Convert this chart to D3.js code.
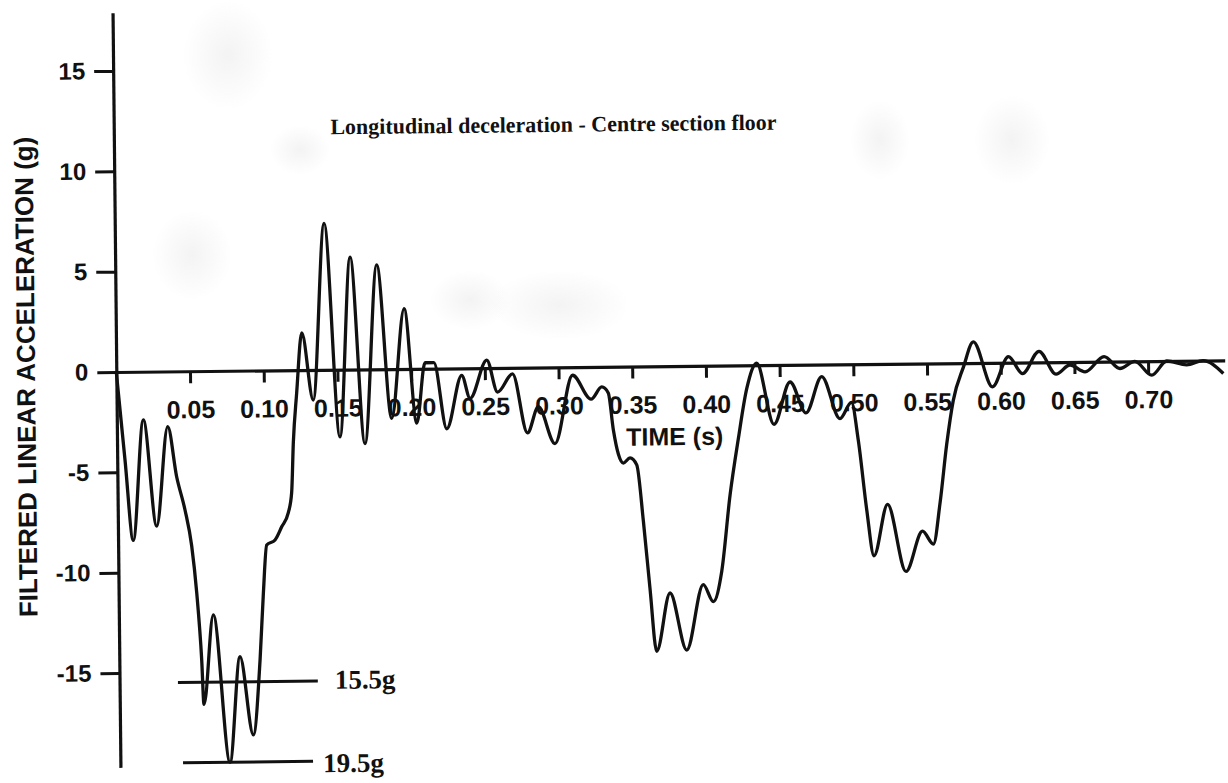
<!DOCTYPE html>
<html>
<head>
<meta charset="utf-8">
<script src="https://cdn.jsdelivr.net/npm/d3@7"></script>
<style>
  html, body { margin: 0; padding: 0; background: #fff; }
  svg { display: block; }
</style>
</head>
<body>
<svg id="chart" width="1228" height="783"></svg>
<script>
// Sample times (s)
const time = [
  0.0000, 0.0053, 0.0103, 0.0180, 0.0263, 0.0345, 0.0402, 0.0456, 0.0499, 0.0530,
  0.0559, 0.0571, 0.0641, 0.0744, 0.0819, 0.0904, 0.0955, 0.0982, 0.1008, 0.1065,
  0.1111, 0.1157, 0.1181, 0.1196, 0.1222, 0.1261, 0.1334, 0.1420, 0.1513, 0.1594,
  0.1682, 0.1774, 0.1865, 0.1957, 0.2035, 0.2095, 0.2155, 0.2238, 0.2343, 0.2398,
  0.2514, 0.2585, 0.2688, 0.2785, 0.2861, 0.2971, 0.3095, 0.3219, 0.3292, 0.3336,
  0.3368, 0.3400, 0.3433, 0.3479, 0.3524, 0.3565, 0.3605, 0.3646, 0.3741, 0.3850,
  0.3967, 0.4034, 0.4093, 0.4155, 0.4215, 0.4276, 0.4345, 0.4458, 0.4570, 0.4676,
  0.4785, 0.4906, 0.4985, 0.5029, 0.5081, 0.5127, 0.5223, 0.5343, 0.5458, 0.5531,
  0.5579, 0.5628, 0.5676, 0.5747, 0.5816, 0.5943, 0.6053, 0.6148, 0.6261, 0.6375,
  0.6470, 0.6572, 0.6702, 0.6809, 0.6911, 0.7024, 0.7127, 0.7262, 0.7373, 0.7510
];

// Filtered longitudinal acceleration at each sample (g)
const accel = [
   0.00,  -4.40,  -8.40,  -2.40,  -7.70,  -2.75,  -5.25,  -6.90,  -8.70, -11.05,
 -14.40, -16.60, -12.15, -19.50, -14.25, -18.15, -14.40, -11.10,  -8.70,  -8.45,
  -7.80,  -7.10,  -6.10,  -3.60,  -1.15,   1.85,  -1.50,   7.30,  -3.35,   5.60,
  -3.70,   5.20,  -2.45,   3.00,  -2.70,   0.30,   0.30,  -3.00,  -0.35,  -1.50,
   0.40,  -1.20,  -0.30,  -3.25,  -1.95,  -3.80,  -0.40,  -1.60,  -1.00,  -1.30,
  -3.15,  -4.35,  -4.80,  -4.55,  -4.90,  -7.70, -11.05, -14.20, -11.30, -14.15,
 -10.90, -11.75, -10.25,  -6.45,  -3.65,  -1.15,   0.10,  -2.95,  -0.85,  -2.40,
  -0.60,  -2.70,  -1.90,  -3.80,  -7.25,  -9.55,  -7.00, -10.35,  -8.35,  -9.00,
  -6.95,  -4.05,  -1.85,  -0.20,   1.05,  -1.20,   0.30,  -0.55,   0.55,  -0.60,
  -0.15,  -0.50,   0.25,  -0.35,   0.00,  -0.70,   0.00,  -0.20,   0.00,  -0.65
];

// Axis ticks
const xTicks = [0.05, 0.10, 0.15, 0.20, 0.25, 0.30, 0.35, 0.40, 0.45, 0.50, 0.55, 0.60, 0.65, 0.70];
const xTickLabels = ["0.05", "0.10", "0.15", "0.20", "0.25", "0.30", "0.35", "0.40", "0.45", "0.50", "0.55", "0.60", "0.65", "0.70"];
const yTicks = [15, 10, 5, 0, -5, -10, -15];
const yTickLabels = ["15", "10", "5", "0", "-5", "-10", "-15"];

// Peak level markers (g) with their labels and time spans (s)
const peakLevels = [-15.5, -19.5];
const peakLabels = ["15.5g", "19.5g"];
const peakStart = [0.0396, 0.0425];
const peakEnd = [0.1345, 0.1307];

const titleText = "Longitudinal deceleration - Centre section floor";
const xTitle = "TIME (s)";
const yTitle = "FILTERED LINEAR ACCELERATION (g)";

const ink = "#111";
const svg = d3.select("#chart");

// faint paper stains
const defs = svg.append("defs");
const grad = defs.append("radialGradient").attr("id", "stain");
grad.append("stop").attr("offset", "0%").attr("stop-color", "#c4c4c4").attr("stop-opacity", 0.2);
grad.append("stop").attr("offset", "100%").attr("stop-color", "#c4c4c4").attr("stop-opacity", 0);
const stains = [
  [228, 55, 45, 55], [300, 150, 30, 25], [192, 255, 40, 45], [560, 305, 70, 35],
  [880, 140, 30, 40], [1012, 140, 38, 45], [470, 300, 40, 30]
];
svg.append("g").selectAll("ellipse").data(stains).join("ellipse")
  .attr("cx", d => d[0]).attr("cy", d => d[1])
  .attr("rx", d => d[2]).attr("ry", d => d[3])
  .attr("fill", "url(#stain)");

// Scales
const x = d3.scaleLinear().domain([0, 0.752]).range([116.3, 116.3 + 0.752 * 1474]);
const y = d3.scaleLinear().domain([-19.7, 17.9]).range([767.4, 12.7]);

// whole plot sits at a slight tilt
const g = svg.append("g").attr("transform", `rotate(-0.6, ${x(0)}, ${y(0)})`);

// Title
g.append("text")
  .attr("x", 556).attr("y", 136.5)
  .attr("text-anchor", "middle")
  .attr("font-family", "'Liberation Serif', 'Times New Roman', serif")
  .attr("font-weight", "bold")
  .attr("font-size", 22)
  .attr("fill", ink)
  .text(titleText);

// Y axis
const yAxis = g.append("g")
  .attr("transform", `translate(${x(0)},0)`)
  .call(d3.axisLeft(y).tickValues(yTicks).tickSize(19).tickSizeOuter(0).tickPadding(9)
    .tickFormat((d, i) => yTickLabels[i]));
yAxis.select(".domain").attr("stroke", ink).attr("stroke-width", 3.2);
yAxis.selectAll(".tick line").attr("stroke", ink).attr("stroke-width", 3);
yAxis.selectAll(".tick text")
  .attr("font-family", "'Liberation Sans', Arial, sans-serif")
  .attr("font-weight", "bold").attr("font-size", 24).attr("fill", ink);

// X axis along zero
const xAxis = g.append("g")
  .attr("transform", `translate(0,${y(0)})`)
  .call(d3.axisBottom(x).tickValues(xTicks).tickSize(12).tickSizeOuter(0)
    .tickFormat((d, i) => xTickLabels[i]));
xAxis.select(".domain").attr("stroke", ink).attr("stroke-width", 3.2);
xAxis.selectAll(".tick line").attr("stroke", ink).attr("stroke-width", 3);
xAxis.selectAll(".tick text")
  .attr("y", 419 - y(0)).attr("dy", 0)
  .attr("font-family", "'Liberation Sans', Arial, sans-serif")
  .attr("font-weight", "bold").attr("font-size", 25).attr("fill", ink);

// Axis titles
g.append("text")
  .attr("x", 674).attr("y", 451)
  .attr("text-anchor", "middle")
  .attr("font-family", "'Liberation Sans', Arial, sans-serif")
  .attr("font-weight", "bold").attr("font-size", 25).attr("fill", ink)
  .text(xTitle);

g.append("text")
  .attr("transform", "translate(35,376) rotate(-90)")
  .attr("text-anchor", "middle")
  .attr("font-family", "'Liberation Sans', Arial, sans-serif")
  .attr("font-weight", "bold").attr("font-size", 26).attr("fill", ink)
  .text(yTitle);

// Peak level markers
peakLevels.forEach((v, i) => {
  g.append("line")
    .attr("x1", x(peakStart[i])).attr("x2", x(peakEnd[i]))
    .attr("y1", y(v)).attr("y2", y(v))
    .attr("stroke", ink).attr("stroke-width", 3);
  g.append("text")
    .attr("x", x(peakEnd[i]) + (i === 0 ? 17 : 10))
    .attr("y", y(v) + (i === 0 ? 8 : 11))
    .attr("font-family", "'Liberation Serif', 'Times New Roman', serif")
    .attr("font-weight", "bold").attr("font-size", 27).attr("fill", ink)
    .text(peakLabels[i]);
});

// Acceleration trace
const pts = time.map((t, i) => [t, accel[i]]);
g.append("path")
  .datum(pts)
  .attr("fill", "none")
  .attr("stroke", ink)
  .attr("stroke-width", 3.3)
  .attr("stroke-linejoin", "round")
  .attr("d", d3.line().x(d => x(d[0])).y(d => y(d[1])).curve(d3.curveMonotoneX));
</script>
</body>
</html>
